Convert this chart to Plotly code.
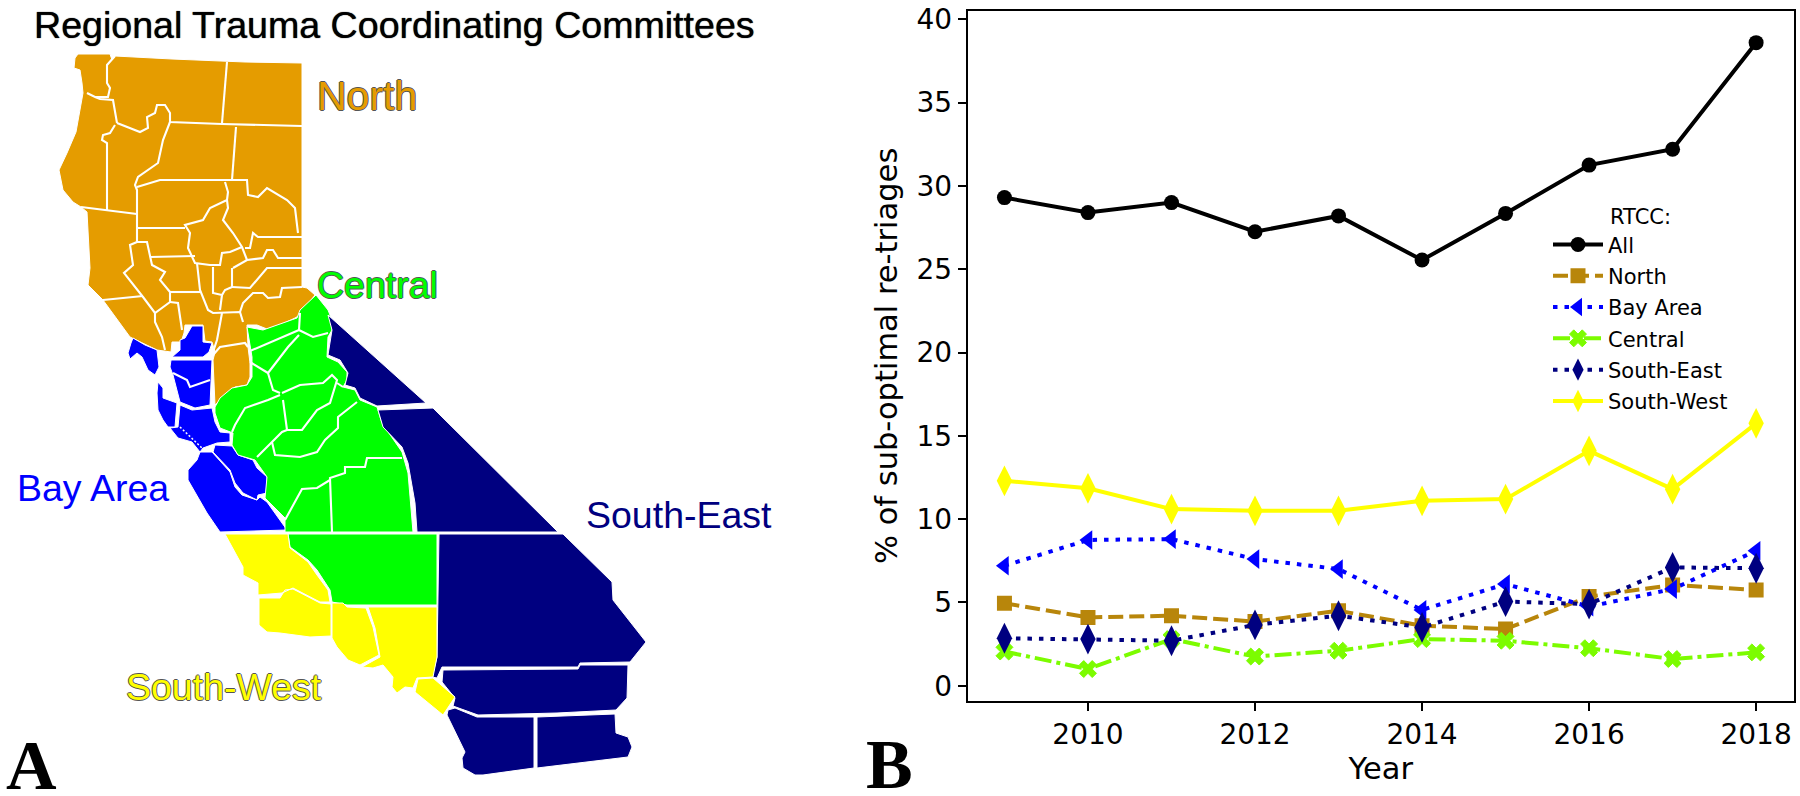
import plotly.graph_objects as go

years = [2009, 2010, 2011, 2012, 2013, 2014, 2015, 2016, 2017, 2018]
all_rtcc = [29.3, 28.4, 29.0, 27.25, 28.2, 25.55, 28.35, 31.25, 32.2, 38.6]
north = [4.95, 4.1, 4.2, 3.85, 4.5, 3.6, 3.4, 5.35, 6.05, 5.75]
bay_area = [7.2, 8.75, 8.8, 7.6, 7.0, 4.55, 6.1, 4.75, 5.8, 8.1]
central = [2.05, 1.0, 2.8, 1.75, 2.1, 2.8, 2.7, 2.25, 1.6, 2.0]
south_east = [2.85, 2.8, 2.7, 3.65, 4.2, 3.5, 5.05, 4.9, 7.1, 7.05]
south_west = [12.3, 11.85, 10.6, 10.5, 10.5, 11.1, 11.2, 14.1, 11.8, 15.75]

# map outlines (x, y in image pixels)
north_shape = [[
    (78, 54), (110, 54), (112, 60), (115, 56), (172, 59), (217, 61), (245, 62), (302, 63),
    (302, 287), (307, 288), (315, 295), (300, 315), (295, 318), (280, 325), (267, 329),
    (257, 325), (247, 325), (248, 347), (250, 363), (250, 377), (247, 385), (235, 387),
    (225, 395), (215, 405), (213, 360), (215, 352), (212, 342), (205, 341), (203, 325),
    (185, 325), (184, 333), (181, 342), (172, 342), (171, 352), (157, 350), (130, 337),
    (103, 300), (88, 285), (90, 268), (87, 212), (81, 207), (73, 202), (63, 190), (59, 170),
    (67, 153), (76, 132), (82, 97), (83, 93), (82, 83), (80, 70), (74, 68), (75, 58),
]]
bay_shapes = [
    [(133, 338), (145, 345), (157, 350), (159, 367), (155, 375), (148, 370), (142, 357),
     (137, 353), (130, 359), (128, 353), (131, 343)],
    [(192, 326), (203, 326), (203, 342), (212, 343), (209, 352), (203, 357), (172, 357),
     (180, 350), (180, 340), (185, 338)],
    [(171, 360), (212, 360), (210, 405), (195, 408), (180, 402), (173, 375), (170, 367)],
    [(158, 382), (163, 388), (163, 398), (177, 403), (175, 427), (168, 427), (163, 420),
     (158, 410), (157, 393)],
    [(180, 405), (192, 410), (212, 408), (215, 422), (220, 432), (230, 433), (230, 442),
     (217, 443), (203, 448), (200, 452), (192, 442), (178, 438), (170, 428), (178, 427)],
    [(200, 452), (212, 452), (230, 472), (235, 487), (242, 495), (257, 500), (260, 497),
     (267, 502), (287, 530), (220, 532), (207, 513), (188, 480), (188, 470), (197, 460)],
    [(215, 445), (232, 446), (238, 455), (253, 460), (257, 468), (267, 477), (267, 493),
     (258, 495), (257, 500), (243, 493), (235, 483), (230, 470), (213, 452)],
]
central_shapes = [
    [(316, 295), (328, 310), (330, 315), (332, 330), (328, 337), (327, 357), (338, 362),
     (347, 372), (347, 380), (343, 387), (355, 390), (360, 400), (377, 407), (382, 423),
     (402, 452), (408, 473), (413, 532), (285, 532), (285, 518), (265, 498), (267, 477),
     (255, 460), (238, 455), (232, 445), (233, 433), (220, 428), (215, 413), (215, 407),
     (220, 398), (232, 388), (247, 385), (252, 377), (252, 357), (247, 327), (263, 330),
     (297, 318), (300, 310)],
    [(288, 534), (437, 534), (437, 605), (347, 605), (332, 602), (330, 590), (317, 570),
     (308, 560), (290, 547)],
]
south_east_shapes = [
    [(328, 315), (426, 403), (377, 406), (360, 398), (355, 388), (345, 385), (348, 373),
     (340, 360), (328, 355), (331, 338), (332, 330)],
    [(378, 410), (433, 408), (558, 532), (417, 532), (415, 503), (408, 463), (402, 447),
     (383, 427)],
    [(439, 534), (563, 534), (612, 582), (613, 600), (646, 642), (630, 662), (580, 663),
     (578, 667), (442, 667), (437, 678), (432, 677), (437, 657)],
    [(443, 670), (578, 669), (580, 665), (628, 665), (627, 698), (616, 710), (557, 713),
     (478, 715), (453, 706), (455, 698), (442, 682)],
    [(448, 710), (455, 708), (477, 717), (534, 717), (534, 768), (483, 775), (475, 775),
     (463, 768), (462, 758), (465, 752), (447, 715)],
    [(537, 717), (615, 714), (616, 733), (628, 737), (632, 747), (628, 757), (537, 768)],
]
south_west_shapes = [
    [(225, 534), (288, 534), (290, 548), (308, 562), (317, 575), (328, 590), (330, 602),
     (320, 602), (293, 588), (282, 593), (258, 595), (258, 583), (243, 575), (243, 567)],
    [(259, 598), (280, 598), (285, 590), (293, 589), (320, 603), (331, 604), (331, 636),
     (310, 637), (280, 633), (267, 632), (259, 625)],
    [(332, 603), (343, 603), (347, 607), (366, 608), (373, 627), (379, 655), (360, 665),
     (348, 660), (337, 647), (332, 638)],
    [(368, 607), (437, 607), (437, 657), (433, 677), (417, 678), (413, 688), (405, 687),
     (397, 693), (392, 687), (393, 677), (383, 665), (373, 668), (362, 667), (380, 657),
     (375, 628)],
    [(418, 679), (433, 678), (455, 697), (443, 715), (415, 692)],
]
# county lines inside the regions
north_borders = [
    [(115, 56), (107, 65), (107, 83), (110, 88), (108, 97), (95, 97), (87, 93)],
    [(95, 97), (100, 99), (113, 100), (117, 123)],
    [(227, 62), (225, 90), (222, 123)],
    [(117, 123), (140, 132), (148, 128), (147, 117), (155, 113), (157, 105), (165, 105),
     (170, 113), (170, 122), (222, 124), (302, 126)],
    [(170, 122), (163, 140), (158, 163), (138, 177), (135, 185), (137, 190), (137, 243)],
    [(115, 125), (110, 133), (103, 135), (102, 140), (107, 143), (107, 210)],
    [(81, 207), (107, 210), (137, 214)],
    [(137, 187), (160, 180), (247, 180), (248, 195), (258, 197), (267, 188), (287, 200),
     (295, 208), (298, 233)],
    [(236, 127), (232, 180)],
    [(225, 182), (228, 192), (227, 200), (210, 208), (203, 220), (185, 225), (190, 233),
     (188, 248), (195, 263), (210, 265), (220, 265), (222, 253), (230, 252), (242, 247)],
    [(227, 200), (228, 208), (223, 220), (233, 233), (242, 247), (247, 260)],
    [(137, 228), (185, 228)],
    [(150, 257), (195, 256)],
    [(137, 242), (130, 245), (133, 265), (124, 273), (143, 297), (155, 313), (170, 302),
     (170, 292), (160, 280), (165, 272), (152, 265), (150, 257), (147, 242), (137, 242)],
    [(170, 292), (200, 292)],
    [(103, 300), (143, 296)],
    [(155, 313), (155, 322), (162, 337), (165, 350)],
    [(170, 302), (178, 303), (182, 330)],
    [(197, 263), (200, 290), (208, 310), (213, 313), (240, 312), (243, 322)],
    [(213, 267), (213, 293), (222, 295), (220, 310)],
    [(232, 268), (232, 287), (225, 290), (222, 295)],
    [(232, 287), (250, 288), (267, 268), (302, 268)],
    [(233, 268), (247, 260), (263, 258), (267, 250), (273, 250), (278, 258), (302, 258)],
    [(245, 248), (250, 248), (253, 233), (258, 237), (302, 237)],
    [(240, 312), (243, 303), (253, 293), (263, 293), (268, 298), (280, 297), (282, 288), (302, 287)],
    [(222, 313), (217, 340), (212, 355)],
    [(213, 355), (220, 347), (245, 343), (248, 347)],
]
central_borders = [
    [(300, 313), (299, 330), (313, 337), (328, 333)],
    [(250, 351), (299, 330)],
    [(299, 335), (288, 347), (268, 373), (250, 362)],
    [(268, 373), (273, 390), (280, 393)],
    [(280, 395), (268, 400), (245, 408), (235, 425), (232, 432)],
    [(282, 393), (300, 385), (323, 383), (332, 375), (337, 380), (330, 403), (317, 410),
     (302, 430), (287, 430), (283, 400)],
    [(287, 430), (282, 432), (272, 442), (257, 457)],
    [(272, 442), (275, 455), (300, 457), (317, 452), (325, 440), (338, 428), (338, 417), (357, 402)],
    [(337, 383), (343, 387)],
    [(402, 458), (367, 458), (365, 467), (345, 467), (345, 473), (330, 478), (332, 532)],
    [(330, 480), (317, 488), (302, 489), (285, 520)],
]
bay_borders = [
    [(173, 373), (187, 380), (190, 387), (210, 380)],
]
bay_dotted_border = [
    [(180, 427), (202, 448)],
]


def flatten(paths, close=True):
    xs, ys = [], []
    for path in paths:
        pts = path + path[:1] if close else path
        xs += [p[0] for p in pts] + [None]
        ys += [p[1] for p in pts] + [None]
    return xs, ys


fig = go.Figure()

for shapes, color in [
    (north_shape, "#E59C00"),
    (bay_shapes, "#0000FF"),
    (central_shapes, "#00FF00"),
    (south_east_shapes, "#000080"),
    (south_west_shapes, "#FFFF00"),
]:
    xs, ys = flatten(shapes)
    fig.add_trace(go.Scatter(x=xs, y=ys, xaxis="x2", yaxis="y2", mode="lines", fill="toself",
                             fillcolor=color, line=dict(color="white", width=1),
                             showlegend=False, hoverinfo="skip"))

xs, ys = flatten(north_borders + central_borders + bay_borders, close=False)
fig.add_trace(go.Scatter(x=xs, y=ys, xaxis="x2", yaxis="y2", mode="lines",
                         line=dict(color="white", width=2.1),
                         showlegend=False, hoverinfo="skip"))
xs, ys = flatten(bay_dotted_border, close=False)
fig.add_trace(go.Scatter(x=xs, y=ys, xaxis="x2", yaxis="y2", mode="lines",
                         line=dict(color="white", width=1.5, dash="2px,2px"),
                         showlegend=False, hoverinfo="skip"))

series = [
    ("All", all_rtcc, "#000000", "solid", "circle", 15, 0),
    ("North", north, "#B8860B", "15px,6px", "square", 15, 0),
    ("Bay Area", bay_area, "#0000FF", "4.5px,7px", "triangle-left", 17, 0),
    ("Central", central, "#7CFC00", "17px,5px,4px,5px", "x", 15, 1),
    ("South-East", south_east, "#000080", "4.5px,7px", "diamond-tall", 22, 0),
    ("South-West", south_west, "#FFFF00", "solid", "diamond-tall", 22, 0),
]
for name, values, color, dash, symbol, size, edge in series:
    fig.add_trace(go.Scatter(x=years, y=values, name=name, legendgroup=name, mode="lines+markers",
                             line=dict(color=color, width=4, dash=dash),
                             marker=dict(symbol=symbol, size=size, color=color,
                                         line=dict(width=edge, color=color))))

labels = [
    ("Regional Trauma Coordinating Committees", 394, 25, 37.6, "black", "0 0 1px #000"),
    ("North", 367, 96, 41, "#E59C00", "-1px 0 #555, 1px 0 #555, 0 -1px #555, 0 1px #555"),
    ("Central", 377, 285, 37.5, "#00FF00", "-1px 0 #555, 1px 0 #555, 0 -1px #555, 0 1px #555"),
    ("Bay Area", 93, 488, 37.5, "#0000FF", None),
    ("South-East", 679, 515, 37.5, "#000080", None),
    ("South-West", 224, 687, 37.5, "#FFFF00", "-1px 0 #555, 1px 0 #555, 0 -1px #555, 0 1px #555"),
]
annotations = []
for text, x, y, size, color, shadow in labels:
    font = dict(family="Liberation Sans", size=size, color=color)
    if shadow:
        font["shadow"] = shadow
    annotations.append(dict(text=text, x=x, y=y, xref="x2", yref="y2", showarrow=False, font=font))
for text, x, y in [("A", 31, 765), ("B", 889, 764)]:
    annotations.append(dict(text=f"<b>{text}</b>", x=x, y=y, xref="x2", yref="y2", showarrow=False,
                            font=dict(family="Liberation Serif", size=70, color="black")))

axis_font = dict(family="DejaVu Sans", size=28, color="black")
title_font = dict(family="DejaVu Sans", size=30.5, color="black")
fig.update_layout(
    width=1800,
    height=796,
    margin=dict(l=0, r=0, t=0, b=0),
    paper_bgcolor="white",
    plot_bgcolor="rgba(0,0,0,0)",
    xaxis=dict(domain=[967.7 / 1800, 1793.7 / 1800], range=[2008.56, 2018.45], dtick=2, tick0=2010,
               ticks="outside", ticklen=8, tickwidth=2, tickcolor="black", showgrid=False, zeroline=False,
               showline=True, linecolor="black", linewidth=2, mirror=True, tickfont=axis_font,
               title=dict(text="Year", font=title_font, standoff=5), anchor="y", automargin=False),
    yaxis=dict(domain=[95.3 / 796, 785 / 796], range=[-0.9, 40.5], dtick=5, tick0=0,
               ticks="outside", ticklen=8, tickwidth=2, tickcolor="black", showgrid=False, zeroline=False,
               showline=True, linecolor="black", linewidth=2, mirror=True, tickfont=axis_font,
               title=dict(text="% of sub-optimal re-triages", font=title_font, standoff=10), anchor="x",
               automargin=False),
    xaxis2=dict(domain=[0, 1], range=[0, 1800], visible=False, anchor="y2", automargin=False),
    yaxis2=dict(domain=[0, 1], range=[796, 0], visible=False, anchor="x2", automargin=False),
    legend=dict(x=1548 / 1800, y=1 - 197 / 796, xanchor="left", yanchor="top", bgcolor="rgba(0,0,0,0)",
                font=dict(family="DejaVu Sans", size=21, color="black"), itemwidth=50, tracegroupgap=1,
                title=dict(text="RTCC:", side="top center", font=dict(family="DejaVu Sans", size=21, color="black"))),
    annotations=annotations,
)

fig.write_html("out.html", config={"displayModeBar": False}, post_script="document.body.style.margin='0';")
